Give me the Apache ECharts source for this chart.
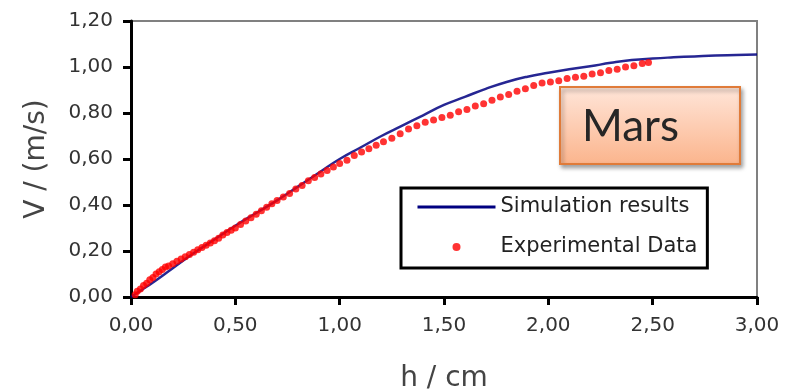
<!DOCTYPE html>
<html>
<head>
<meta charset="utf-8">
<script src="https://cdn.jsdelivr.net/npm/echarts@6/dist/echarts.min.js"></script>
<style>html,body{margin:0;padding:0;background:#fff}#c{width:790px;height:390px}</style>
</head>
<body>
<div id="c"></div>
<script>
// Simulation results (h in cm, V in m/s)
var simH = [0, 0.05, 0.1, 0.2, 0.3, 0.4, 0.5, 0.6, 0.7, 0.8, 0.9, 1.0, 1.1, 1.2, 1.3, 1.4, 1.5, 1.6, 1.7, 1.8, 1.9, 2.0, 2.1, 2.2, 2.3, 2.4, 2.5, 2.6, 2.7, 2.8, 2.9, 3.0];
var simV = [0, 0.03, 0.06, 0.125, 0.19, 0.25, 0.31, 0.365, 0.42, 0.48, 0.54, 0.60, 0.65, 0.70, 0.745, 0.79, 0.835, 0.87, 0.905, 0.935, 0.958, 0.975, 0.99, 1.003, 1.018, 1.03, 1.037, 1.042, 1.046, 1.05, 1.052, 1.054];
// Experimental data
var expH = [0.02,0.03,0.045,0.06,0.075,0.09,0.105,0.12,0.135,0.15,0.165,0.18,0.2,0.22,0.24,0.26,0.28,0.3,0.32,0.34,0.36,0.38,0.40,0.42,0.44,0.46,0.48,0.50,0.525,0.55,0.575,0.60,0.625,0.65,0.675,0.70,0.73,0.76,0.79,0.82,0.85,0.88,0.91,0.94,0.97,1.0,1.035,1.07,1.105,1.14,1.175,1.21,1.25,1.29,1.33,1.37,1.41,1.45,1.49,1.53,1.57,1.61,1.65,1.69,1.73,1.77,1.81,1.85,1.89,1.93,1.97,2.01,2.05,2.09,2.13,2.17,2.21,2.25,2.29,2.33,2.37,2.41,2.45,2.48];
var expV = [0.01,0.025,0.035,0.05,0.06,0.075,0.085,0.10,0.11,0.12,0.13,0.135,0.145,0.155,0.165,0.175,0.185,0.195,0.205,0.215,0.225,0.235,0.245,0.255,0.27,0.28,0.29,0.30,0.315,0.33,0.345,0.36,0.375,0.39,0.405,0.42,0.435,0.45,0.47,0.485,0.505,0.52,0.535,0.55,0.565,0.58,0.595,0.615,0.63,0.645,0.66,0.675,0.69,0.71,0.73,0.745,0.76,0.77,0.78,0.79,0.805,0.815,0.83,0.84,0.855,0.87,0.88,0.895,0.905,0.92,0.93,0.935,0.94,0.95,0.955,0.96,0.97,0.975,0.985,0.99,1.0,1.005,1.015,1.02];
var seriesNames = ['Simulation results', 'Experimental Data'];
var xTitle = 'h / cm';
var yTitle = 'V / (m/s)';
var boxLabel = 'Mars';

function pairs(a, b) { return a.map(function (v, i) { return [v, b[i]]; }); }
function fmt(v) { return v.toFixed(2).replace('.', ','); }

var chart = echarts.init(document.getElementById('c'), null, {renderer: 'canvas'});
chart.setOption({
  backgroundColor: '#fff',
  animation: false,
  grid: {left: 131, right: 33, top: 21, bottom: 93, containLabel: false, outerBoundsMode: 'none', show: true, borderColor: '#808080', borderWidth: 2, backgroundColor: 'transparent'},
  xAxis: {
    type: 'value', min: 0, max: 3, interval: 0.5,
    name: xTitle, nameLocation: 'middle', nameGap: 68,
    nameTextStyle: {fontFamily: 'DejaVu Sans', fontSize: 28, color: '#444'},
    axisLine: {lineStyle: {color: '#000', width: 3}},
    axisTick: {show: true, inside: false, length: 8, lineStyle: {color: '#000', width: 3}},
    axisLabel: {margin: 19, fontFamily: 'DejaVu Sans', fontSize: 20, color: '#333', formatter: fmt},
    splitLine: {show: false}
  },
  yAxis: {
    type: 'value', min: 0, max: 1.2, interval: 0.2,
    name: yTitle, nameLocation: 'middle', nameGap: 80, nameRotate: 90,
    nameTextStyle: {fontFamily: 'DejaVu Sans', fontSize: 28, color: '#444'},
    axisLine: {show: true, lineStyle: {color: '#000', width: 3}},
    axisTick: {show: true, inside: false, length: 8, lineStyle: {color: '#000', width: 3}},
    axisLabel: {margin: 18, fontFamily: 'DejaVu Sans', fontSize: 20, color: '#333', formatter: fmt},
    splitLine: {show: false}
  },
  legend: {
    orient: 'vertical', left: 401, top: 188,
    padding: [8, 10, 10, 15], itemGap: 18, itemWidth: 78, itemHeight: 8, itemTextGap: 5,
    borderColor: '#000', borderWidth: 3, backgroundColor: '#fff',
    textStyle: {fontFamily: 'DejaVu Sans', fontSize: 21, color: '#222', lineHeight: 22},
    data: [
      {name: seriesNames[0], itemStyle: {opacity: 0}, lineStyle: {color: '#000080', width: 3, opacity: 1}},
      {name: seriesNames[1], icon: 'circle'}
    ]
  },
  series: [
    {
      name: seriesNames[0], type: 'line', data: pairs(simH, simV),
      symbol: 'none', smooth: true, z: 2,
      lineStyle: {color: '#000080', width: 2.5, opacity: 0.85},
      itemStyle: {color: '#000080'}
    },
    {
      name: seriesNames[1], type: 'scatter', data: pairs(expH, expV),
      symbol: 'circle', symbolSize: 7, z: 3,
      itemStyle: {color: '#ff0000'}
    }
  ],
  graphic: [
    {
      type: 'rect', z: 10,
      shape: {x: 560, y: 87, width: 180, height: 77},
      style: {
        fill: new echarts.graphic.LinearGradient(0, 0, 0, 1, [{offset: 0, color: '#FFE6DA'}, {offset: 1, color: '#FBB48C'}]),
        stroke: '#E07B39', lineWidth: 2,
        shadowBlur: 4, shadowOffsetX: 2, shadowOffsetY: 3, shadowColor: 'rgba(0,0,0,0.35)'
      }
    },
    {
      type: 'text', z: 11, left: 582, top: 105,
      style: {text: boxLabel, fontFamily: 'Lato', fontSize: 44, fill: '#262626'}
    }
  ]
});
</script>
</body>
</html>
